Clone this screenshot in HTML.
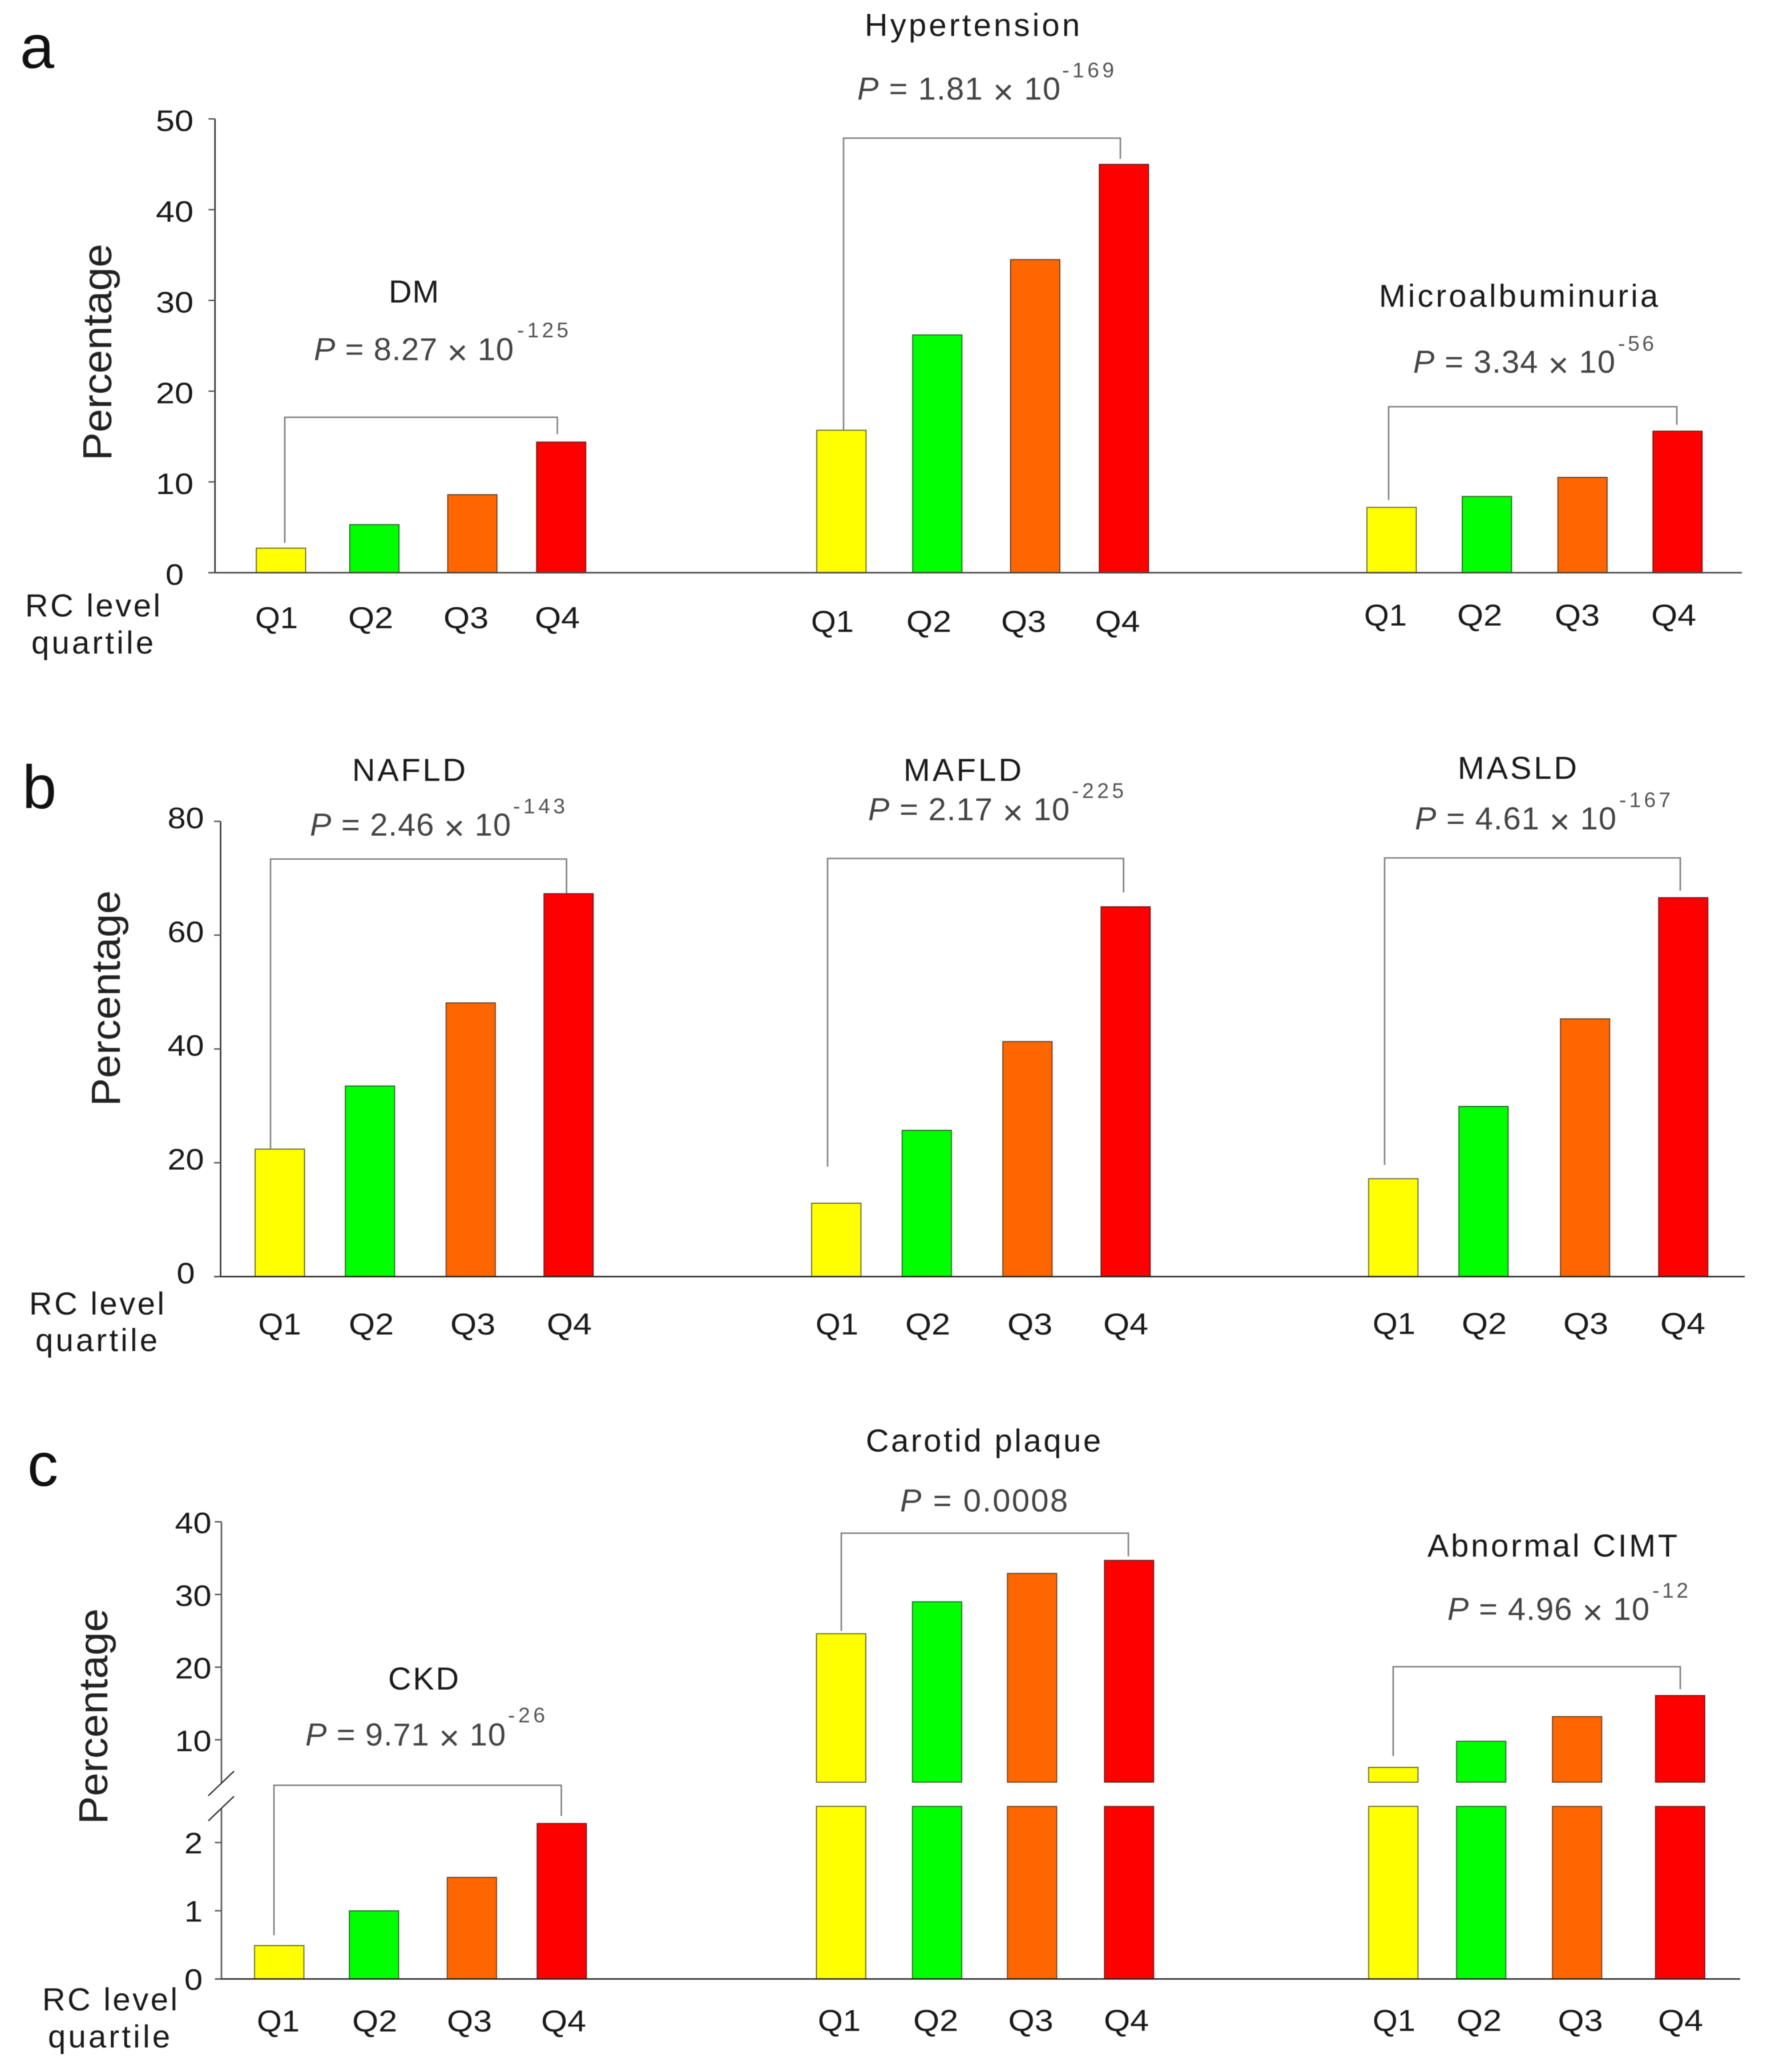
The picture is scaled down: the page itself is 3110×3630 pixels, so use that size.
<!DOCTYPE html>
<html lang="en">
<head>
<meta charset="utf-8">
<title>RC level quartile prevalence chart</title>
<style>
html,body{margin:0;padding:0;background:#fff;}
svg{display:block;filter:blur(0.8px);}
text{font-family:"Liberation Sans",Arial,sans-serif;}
.panel-letter{font-size:108px;fill:#111;}
.axis-title{font-size:71px;fill:#222;}
.title{font-size:56px;fill:#1a1a1a;}
.pval{font-size:56px;fill:#444;}
.pval .it{font-style:italic;}
.pval .x{font-size:62px;}
.sup{font-size:37px;fill:#555;}
.rc{font-size:56px;fill:#1a1a1a;}
</style>
</head>
<body>
<svg id="chart" xmlns="http://www.w3.org/2000/svg" width="3110" height="3630" viewBox="0 0 3110 3630">
<rect width="3110" height="3630" fill="#fff"/>

<text class="panel-letter" x="35" y="119">a</text>
<text class="panel-letter" x="39" y="1416">b</text>
<text class="panel-letter" x="48" y="2603">c</text>

<text class="axis-title" text-anchor="middle" transform="translate(195 617) rotate(-90)" textLength="380" lengthAdjust="spacingAndGlyphs">Percentage</text>
<text class="axis-title" text-anchor="middle" transform="translate(210 1749) rotate(-90)" textLength="378" lengthAdjust="spacingAndGlyphs">Percentage</text>
<text class="axis-title" text-anchor="middle" transform="translate(188 3007) rotate(-90)" textLength="378" lengthAdjust="spacingAndGlyphs">Percentage</text>

<text class="rc" x="44" y="1080" textLength="237">RC level</text>
<text class="rc" x="55" y="1145" textLength="214">quartile</text>
<text class="rc" x="51" y="2303" textLength="237">RC level</text>
<text class="rc" x="62" y="2367" textLength="214">quartile</text>
<text class="rc" x="74" y="3522" textLength="237">RC level</text>
<text class="rc" x="84" y="3587" textLength="214">quartile</text>

<text class="title" x="681" y="530" textLength="88">DM</text>
<text class="pval" x="550" y="631" textLength="350"><tspan class="it">P</tspan> = 8.27 <tspan class="x" dy="8">×</tspan><tspan dy="-8"> 10</tspan></text>
<text class="sup" x="906" y="591" textLength="90">-125</text>

<text class="title" x="1515" y="63" textLength="377">Hypertension</text>
<text class="pval" x="1502" y="174.5" textLength="356"><tspan class="it">P</tspan> = 1.81 <tspan class="x" dy="8">×</tspan><tspan dy="-8"> 10</tspan></text>
<text class="sup" x="1861" y="135.5" textLength="91">-169</text>

<text class="title" x="2416" y="537.5" textLength="489">Microalbuminuria</text>
<text class="pval" x="2476" y="653" textLength="354"><tspan class="it">P</tspan> = 3.34 <tspan class="x" dy="8">×</tspan><tspan dy="-8"> 10</tspan></text>
<text class="sup" x="2835" y="614.5" textLength="63">-56</text>

<text class="title" x="617" y="1368" textLength="199">NAFLD</text>
<text class="pval" x="543" y="1464" textLength="352"><tspan class="it">P</tspan> = 2.46 <tspan class="x" dy="8">×</tspan><tspan dy="-8"> 10</tspan></text>
<text class="sup" x="899" y="1425" textLength="91">-143</text>

<text class="title" x="1583" y="1368" textLength="207">MAFLD</text>
<text class="pval" x="1521" y="1437" textLength="353"><tspan class="it">P</tspan> = 2.17 <tspan class="x" dy="8">×</tspan><tspan dy="-8"> 10</tspan></text>
<text class="sup" x="1878" y="1398" textLength="91">-225</text>

<text class="title" x="2554" y="1364.5" textLength="209">MASLD</text>
<text class="pval" x="2479" y="1453" textLength="353"><tspan class="it">P</tspan> = 4.61 <tspan class="x" dy="8">×</tspan><tspan dy="-8"> 10</tspan></text>
<text class="sup" x="2837" y="1414" textLength="90">-167</text>

<text class="title" x="680" y="2960" textLength="124">CKD</text>
<text class="pval" x="535" y="3058" textLength="351"><tspan class="it">P</tspan> = 9.71 <tspan class="x" dy="8">×</tspan><tspan dy="-8"> 10</tspan></text>
<text class="sup" x="890" y="3017.5" textLength="65">-26</text>

<text class="title" x="1517" y="2543" textLength="412">Carotid plaque</text>
<text class="pval" x="1577" y="2648" textLength="294"><tspan class="it">P</tspan> = 0.0008</text>

<text class="title" x="2501" y="2727" textLength="438">Abnormal CIMT</text>
<text class="pval" x="2536" y="2838" textLength="354"><tspan class="it">P</tspan> = 4.96 <tspan class="x" dy="8">×</tspan><tspan dy="-8"> 10</tspan></text>
<text class="sup" x="2895" y="2799" textLength="63">-12</text>
</svg>

<script>
// ---------- chart data ----------
const categories = ['Q1', 'Q2', 'Q3', 'Q4'];
const dmValues = [2.7, 5.3, 8.6, 14.4];
const hypertensionValues = [15.7, 26.2, 34.5, 45.0];
const microalbuminuriaValues = [7.2, 8.4, 10.5, 15.6];
const nafldValues = [22.4, 33.5, 48.1, 67.3];
const mafldValues = [12.9, 25.7, 41.3, 65.0];
const masldValues = [17.2, 29.9, 45.3, 66.6];
const ckdValues = [0.49, 1.0, 1.49, 2.28];
const carotidValues = [24.6, 29.0, 32.9, 34.7];
const cimtValues = [6.2, 9.8, 13.2, 16.1];
const ticksA = [0, 10, 20, 30, 40, 50];
const ticksB = [0, 20, 40, 60, 80];
const ticksCLower = [0, 1, 2];
const ticksCUpper = [10, 20, 30, 40];

// ---------- axis functions ----------
const CUT_LOW = 2.53;
const CUT_HIGH = 4.16;
function yA(v) { return 1003.3 - v * 15.9; }
function yB(v) { return 2236.5 - v * 9.97; }
function yCLower(v) { return 3467 - v * 119.5; }
function yCUpper(v) { return 3048 - (v - 10) * 12.73; }
function yC(v) { return v <= CUT_LOW ? yCLower(v) : yCUpper(v); }
function xBand(g, i) { return g.left + i * (g.last - g.left) / 3 + g.nudge[i]; }

// ---------- layout (not data) ----------
const BAR_W = 86.5;
const barColors = ['#ffff00', '#00ff00', '#ff6600', '#ff0000'];
const groups = [
  {name: 'dm', values: dmValues, y: yA, left: 449, last: 940, nudge: [0, 0, 8, 0], br: [499, 976.5, 731, 9.5, 14], ql: [447, 610, 777, 937], qb: 1100.5},
  {name: 'hypertension', values: hypertensionValues, y: yA, left: 1431, last: 1926, nudge: [0, 3, 9.5, 0], br: [1478, 1963, 242, 0, 9.5], ql: [1421, 1588, 1754, 1918.5], qb: 1107},
  {name: 'microalbuminuria', values: microalbuminuriaValues, y: yA, left: 2395, last: 2896, nudge: [0, 0, 0.5, 0], br: [2433, 2938, 712.5, 13, 11], ql: [2390, 2553, 2724, 2893], qb: 1096},
  {name: 'nafld', values: nafldValues, y: yB, left: 447, last: 953, nudge: [0, -10.7, -2.8, 0], br: [474, 992.6, 1505, 0, 0], ql: [452.5, 611, 789, 958], qb: 2338},
  {name: 'mafld', values: mafldValues, y: yB, left: 1422, last: 1929, nudge: [0, -10.4, -3, 0], br: [1450, 1968.6, 1504, 64, 25], ql: [1429, 1586, 1765, 1933], qb: 2338},
  {name: 'masld', values: masldValues, y: yB, left: 2398, last: 2906, nudge: [0, -11.3, -2.7, 0], br: [2426, 2944, 1503, 24, 12], ql: [2405, 2561, 2739, 2909], qb: 2337},
  {name: 'ckd', values: ckdValues, y: yC, left: 446, last: 941, nudge: [0, 1, 7.6, 0], br: [480, 983.5, 3127.7, 18, 13], ql: [450, 617, 783, 948], qb: 3559},
  {name: 'carotid-plaque', values: carotidValues, y: yC, left: 1430.5, last: 1935, nudge: [0, 0, -1.8, 0], br: [1474, 1977, 2686, 5, 7], ql: [1433, 1600, 1766.5, 1934], qb: 3558},
  {name: 'abnormal-cimt', values: cimtValues, y: yC, left: 2398, last: 2900.5, nudge: [0, -13.5, -13, 0], br: [2441, 2944, 2920, 20, 11], ql: [2405, 2552, 2729.5, 2905], qb: 3558}
];

const NS = 'http://www.w3.org/2000/svg';
const svg = document.getElementById('chart');
function make(tag, props) {
  const el = document.createElementNS(NS, tag);
  for (const k in props) el.setAttribute(k, props[k]);
  svg.appendChild(el);
  return el;
}
function line(x1, y1, x2, y2, stroke, w) {
  return make('line', {x1: x1, y1: y1, x2: x2, y2: y2, stroke: stroke, 'stroke-width': w});
}
function barRect(x, top, bottom, color) {
  return make('rect', {x: x, y: top, width: BAR_W, height: Math.max(0, bottom - top), fill: color, stroke: 'rgba(0,0,0,0.6)', 'stroke-width': 1.8});
}

// bars, brackets and quartile labels
groups.forEach(function (g) {
  g.values.forEach(function (v, i) {
    const x = xBand(g, i);
    if (g.y === yC) {
      if (v > CUT_LOW) {
        const upper = barRect(x, yCUpper(v), yCUpper(CUT_HIGH), barColors[i]);
        
        
        const lower = barRect(x, yCLower(CUT_LOW), yCLower(0), barColors[i]);
        
        
      } else {
        const bar = barRect(x, yCLower(v), yCLower(0), barColors[i]);
        
        
      }
    } else {
      const bar = barRect(x, g.y(v), g.y(0), barColors[i]);
      
      
    }
    const label = make('text', {x: g.ql[i], y: g.qb, 'font-size': 53, fill: '#1a1a1a', textLength: i === 0 ? 75 : 79, lengthAdjust: 'spacingAndGlyphs'});
    label.textContent = categories[i];
    
    
  });
  const br = g.br;
  const bottomL = g.y(g.values[0]) - br[3];
  const bottomR = g.y(g.values[3]) - br[4];
  const bracket = make('path', {
    d: 'M' + br[0] + ' ' + bottomL + 'V' + br[2] + 'H' + br[1] + 'V' + bottomR,
    fill: 'none', stroke: '#808080', 'stroke-width': 2.6
  });
  
  
});

// axes
function tickLabel(text, cx, y, wide) {
  const t = make('text', {x: cx, y: y, 'font-size': 52, fill: '#1a1a1a', 'text-anchor': 'middle', textLength: text.length > 1 ? wide : 32, lengthAdjust: 'spacingAndGlyphs'});
  t.textContent = text;
  
  
}
function axisTick(axisX, y) {
  const tick = line(axisX - 11.5, y, axisX, y, '#555', 2.4);
  
  
}

// panel a axes
const axisAY = line(376.7, yA(50), 376.7, yA(0), '#333', 2.6);


const axisAX = line(365, yA(0), 3052, yA(0), '#444', 2.6);


ticksA.forEach(function (t) {
  axisTick(376.7, yA(t));
  tickLabel(String(t), 306, yA(t) + 21, 66);
});

// panel b axes
const axisBY = line(386.5, yB(80), 386.5, yB(0), '#333', 2.6);


const axisBX = line(375, yB(0), 3057, yB(0), '#222', 2.6);


ticksB.forEach(function (t) {
  axisTick(386.5, yB(t));
  tickLabel(String(t), 325.5, yB(t) + 12, 64);
});

// panel c axes (broken)
const axisCUp = line(388, yCUpper(40), 388, 3125, '#555', 2.6);


const axisCLow = line(388, 3169, 388, yCLower(0), '#555', 2.6);


const breakA = line(365, 3146, 410, 3103, '#333', 2.4);


const breakB = line(365, 3190, 410, 3147, '#333', 2.4);


const axisCX = line(377, yCLower(0), 3049, yCLower(0), '#222', 2.6);


ticksCUpper.forEach(function (t) {
  axisTick(388, yCUpper(t));
  tickLabel(String(t), 338.5, yCUpper(t) + 20, 64);
});
ticksCLower.forEach(function (t) {
  axisTick(388, yCLower(t));
  tickLabel(String(t), 339, yCLower(t) + 19, 64);
});
</script>
</body>
</html>
